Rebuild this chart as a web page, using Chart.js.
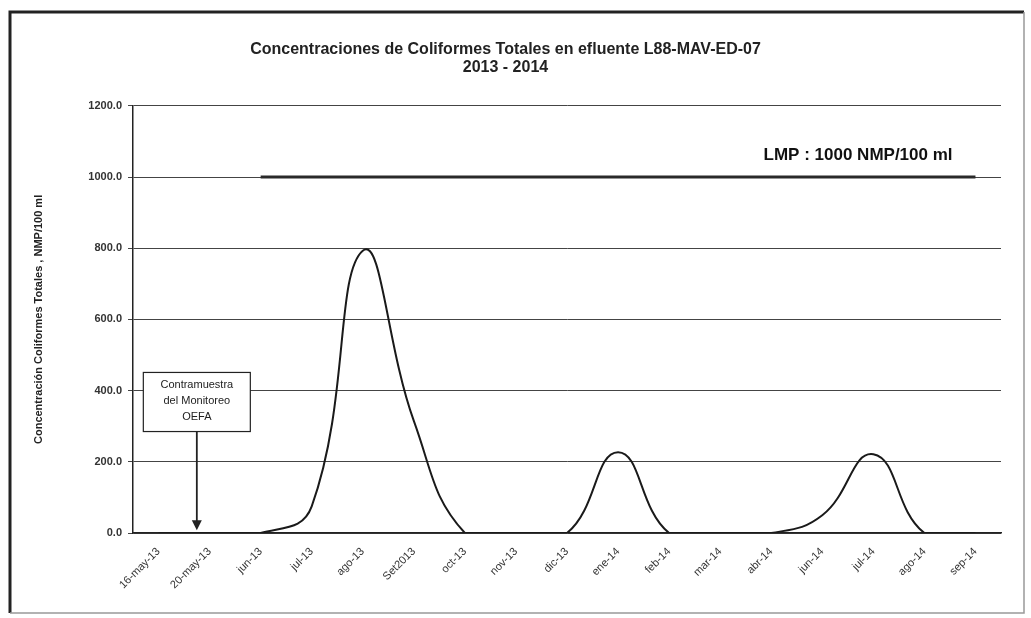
<!DOCTYPE html>
<html>
<head>
<meta charset="utf-8">
<script src="https://cdn.jsdelivr.net/npm/chart.js@4/dist/chart.umd.min.js"></script>
<style>
  body { margin: 0; background: #fff; }
  #wrap { position: relative; width: 1031px; height: 618px; }
</style>
</head>
<body>
<div id="wrap"><canvas id="myChart" width="1031" height="618"></canvas></div>
<script>
// categories and values
const meses = ["16-may-13", "20-may-13", "jun-13", "jul-13", "ago-13", "Set2013", "oct-13", "nov-13",
  "dic-13", "ene-14", "feb-14", "mar-14", "abr-14", "jun-14", "jul-14", "ago-14", "sep-14"];
const coliformes = [0, 0, 0, 75, 793, 315, 0, 0, 0, 227, 0, 0, 0, 50, 221, 0, 0];
const lmp = [null, null, 1000, 1000, 1000, 1000, 1000, 1000, 1000, 1000, 1000, 1000, 1000, 1000, 1000, 1000, 1000];
const yTicks = [0, 200, 400, 600, 800, 1000, 1200];

const titulo = ["Concentraciones de Coliformes Totales en efluente L88-MAV-ED-07", "2013 - 2014"];
const tituloY = "Concentración Coliformes Totales , NMP/100 ml";
const notaLmp = "LMP : 1000 NMP/100 ml";
const notaCaja = ["Contramuestra", "del Monitoreo", "OEFA"];

const fuente = "'Liberation Sans', Arial, sans-serif";

// frame, annotation box with arrow and LMP label
const extras = {
  id: "extras",
  beforeDraw: (chart) => {
    const c = chart.ctx;
    c.save();
    c.fillStyle = "#fff";
    c.fillRect(0, 0, chart.width, chart.height);
    c.strokeStyle = "#222";
    c.lineWidth = 3;
    c.beginPath();
    c.moveTo(10, 613);
    c.lineTo(10, 12);
    c.lineTo(1024, 12);
    c.stroke();
    c.strokeStyle = "#999";
    c.lineWidth = 1.5;
    c.beginPath();
    c.moveTo(10, 613);
    c.lineTo(1024, 613);
    c.lineTo(1024, 12);
    c.stroke();
    c.restore();
  },
  afterDatasetsDraw: (chart) => {
    const c = chart.ctx;
    const x = chart.scales.x;
    const y = chart.scales.y;
    c.save();
    // LMP label
    c.fillStyle = "#111";
    c.font = "bold 17px " + fuente;
    c.textAlign = "left";
    c.textBaseline = "middle";
    c.fillText(notaLmp, x.getPixelForValue(11.85), y.getPixelForValue(1062));

    // box and arrow
    const cx = x.getPixelForValue(0.75);
    const top = y.getPixelForValue(451);
    const bot = y.getPixelForValue(285);
    const w = 107;
    c.fillStyle = "#fff";
    c.fillRect(cx - w / 2, top, w, bot - top);
    c.strokeStyle = "#222";
    c.lineWidth = 1.2;
    c.strokeRect(cx - w / 2, top, w, bot - top);
    c.fillStyle = "#222";
    c.font = "11px " + fuente;
    c.textAlign = "center";
    notaCaja.forEach((t, i) => c.fillText(t, cx, top + 13 + i * 16));

    const tip = y.getPixelForValue(8);
    c.lineWidth = 1.8;
    c.beginPath();
    c.moveTo(cx, bot);
    c.lineTo(cx, tip - 8);
    c.stroke();
    c.beginPath();
    c.moveTo(cx - 5, tip - 10);
    c.lineTo(cx + 5, tip - 10);
    c.lineTo(cx, tip);
    c.closePath();
    c.fill();
    c.restore();
  }
};

new Chart(document.getElementById("myChart"), {
  type: "line",
  data: {
    labels: meses,
    datasets: [
      {
        data: coliformes,
        borderColor: "#1a1a1a",
        borderWidth: 2,
        pointRadius: 0,
        tension: 0.45,
        fill: false
      },
      {
        data: lmp,
        borderColor: "#2a2a2a",
        borderWidth: 3,
        pointRadius: 0,
        tension: 0,
        fill: false
      }
    ]
  },
  options: {
    responsive: false,
    animation: false,
    layout: { padding: { left: 10, right: 30, top: 14, bottom: 0 } },
    plugins: {
      legend: { display: false },
      tooltip: { enabled: false },
      title: {
        display: true,
        text: titulo,
        color: "#222",
        font: { family: fuente, size: 16, weight: "bold", lineHeight: 1.15 },
        padding: { top: 26, bottom: 29 }
      }
    },
    scales: {
      x: {
        offset: true,
        grid: { display: false, offset: true },
        border: { display: true, color: "#222", width: 1.5 },
        ticks: {
          color: "#333",
          font: { family: fuente, size: 11 },
          maxRotation: 45,
          minRotation: 45,
          autoSkip: false,
          padding: 4
        },
        afterFit: (s) => { s.height = 618 - 533; }
      },
      y: {
        min: 0,
        max: 1200,
        afterBuildTicks: (s) => { s.ticks = yTicks.map(v => ({ value: v })); },
        grid: { color: "#444", lineWidth: 1, drawTicks: true, tickLength: 5 },
        border: { display: true, color: "#222", width: 1.5 },
        ticks: {
          color: "#333",
          font: { family: fuente, size: 11, weight: "bold" },
          padding: 6,
          callback: (v) => Number(v).toFixed(1)
        },
        title: {
          display: true,
          text: tituloY,
          color: "#222",
          font: { family: fuente, size: 11, weight: "bold" },
          padding: { top: 22, bottom: 0 }
        },
        afterFit: (s) => { s.width = 133 - 10; }
      }
    }
  },
  plugins: [extras]
});
</script>
</body>
</html>
